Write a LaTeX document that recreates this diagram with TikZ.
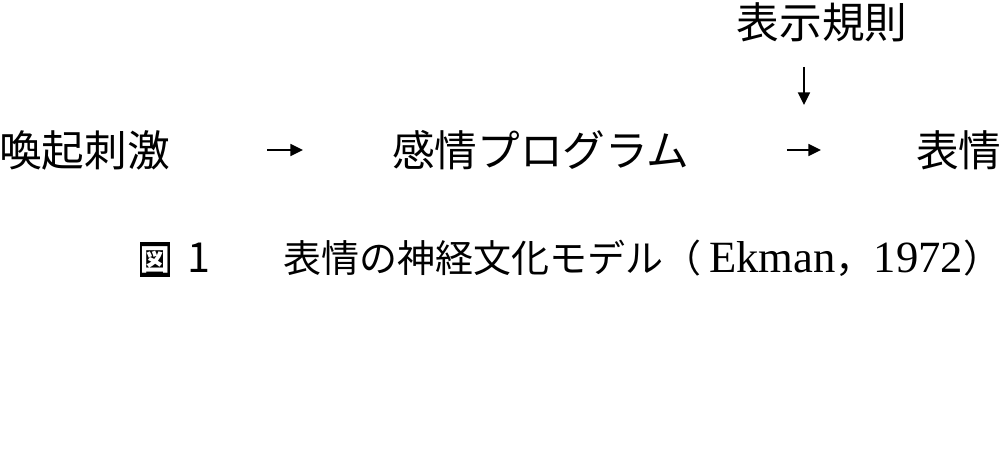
\documentclass[tikz,border=0pt]{standalone}
\usepackage{fontspec}
\newfontfamily\jpfont{Noto Sans CJK JP}
\newfontfamily\latinfont{Liberation Serif}
\usetikzlibrary{arrows.meta}
\usetikzlibrary{calc}
\tikzset{rowText/.style={inner sep=0pt, node font=\fontsize{32}{38}\selectfont\jpfont}}
\tikzset{flowArrow/.style={line width=1.3pt, -{Triangle[length=9.5pt,width=9pt]}}}
\tikzset{captionText/.style={inner sep=0pt, node font=\fontsize{28.5}{34}\selectfont\jpfont}}

\begin{document}
\begin{tikzpicture}[x=0.75pt,y=-0.75pt]
\useasboundingbox (0,0) rectangle (1000,454);

% flow row
\node[rowText,anchor=west] (stimulus) at (-1,150) {喚起刺激};
\node[rowText,anchor=west] (program) at (392,150) {感情プログラム};
\node[rowText,anchor=west] (expression) at (916,150) {表情};
\node[rowText,anchor=center] (displayRules) at (822,22) {表示規則};

\draw[flowArrow] ($(stimulus.east)+(97,0)$) -- ($(program.west)-(89,0)$);
\draw[flowArrow] ($(program.east)+(97,0)$) coordinate (ruleStart) -- ($(expression.west)-(95,0)$) coordinate (ruleEnd);
\coordinate (ruleMid) at ($(ruleStart)!0.5!(ruleEnd)$);
\draw[flowArrow] ($(displayRules.south -| ruleMid)+(0,25)$) -- ($(ruleMid)+(0,-45)$);

% caption
\node[fill=black,text=white,inner sep=0pt,minimum width=22.5pt,minimum height=26.25pt,
  node font=\fontsize{22}{24}\selectfont\jpfont\bfseries] (figBox) at (155,259.5) {図};
\node[inner sep=0pt,anchor=west,node font=\fontsize{31}{36}\selectfont\jpfont] (figNum) at (187,258) {1};
\node[captionText,anchor=west] (caption) at (283,258) {表情の神経文化モデル（\kern6pt{\latinfont\fontsize{33.5}{38}\selectfont Ekman}，{\latinfont\fontsize{33.5}{38}\selectfont 1972}）};
\end{tikzpicture}
\end{document}
